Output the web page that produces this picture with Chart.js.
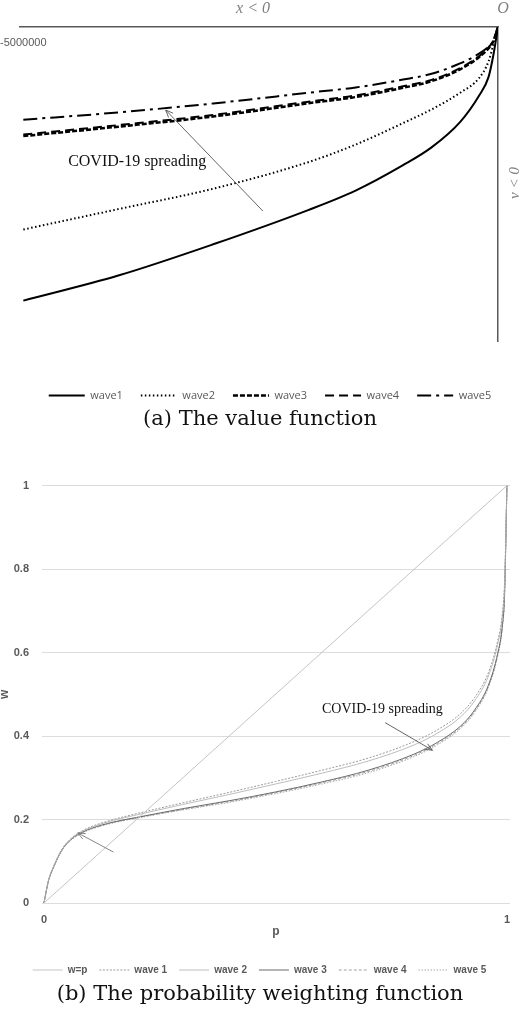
<!DOCTYPE html>
<html>
<head>
<meta charset="utf-8">
<script src="https://cdn.jsdelivr.net/npm/chart.js@4.4.1/dist/chart.umd.min.js"></script>
<style>
  html, body { margin: 0; padding: 0; background: #fff; }
  #page { position: relative; width: 520px; height: 1018px; overflow: hidden; }
  .box { position: absolute; left: 0; width: 520px; }
  .caption { position: absolute; left: 0; width: 520px; text-align: center;
             font-family: "DejaVu Serif", serif; font-size: 21px; color: #111; line-height: 24px; }
</style>
</head>
<body>
<div id="page">
  <div class="box" style="top:0; height:411px;"><canvas id="valueChart"></canvas></div>
  <div class="caption" style="top:406px;">(a) The value function</div>
  <div class="box" style="top:466px; height:519px;"><canvas id="weightChart"></canvas></div>
  <div class="caption" style="top:981px;">(b) The probability weighting function</div>
</div>
<script>
// (a) value function, losses x < 0
const lossX = [-5000000, -4000000, -3000000, -2000000, -1500000, -1000000, -700000, -400000, -200000, -100000, -50000, 0];
const valueWave1 = [-1743000, -1583000, -1384000, -1166000, -1042000, -880000, -767000, -606000, -438000, -319000, -183000, 0];
const valueWave2 = [-1290000, -1160000, -1030000, -861000, -749000, -612000, -525000, -419000, -326000, -220000, -114000, 0];
const valueWave3 = [-695000, -635000, -570000, -486000, -446000, -387000, -345000, -270000, -192000, -136000, -91000, 0];
const valueWave4 = [-685000, -625000, -560000, -476000, -436000, -377000, -337000, -262000, -186000, -130000, -87000, 0];
const valueWave5 = [-591000, -544000, -487000, -419000, -385000, -335000, -298000, -232000, -170000, -126000, -92000, 0];
const valueNames = ['wave1', 'wave2', 'wave3', 'wave4', 'wave5'];

// (b) probability weighting function
const probP = [0, 0.01, 0.02, 0.04, 0.06, 0.08, 0.1, 0.15, 0.2, 0.3, 0.4, 0.5, 0.6, 0.7, 0.8, 0.85, 0.9, 0.93, 0.96, 0.98, 0.99, 0.995, 1];
const weightWave1 = [0, 0.055, 0.086, 0.131, 0.156, 0.171, 0.182, 0.200, 0.214, 0.240, 0.265, 0.291, 0.318, 0.347, 0.387, 0.415, 0.454, 0.492, 0.552, 0.628, 0.692, 0.772, 1];
const weightWave2 = [0, 0.055, 0.085, 0.130, 0.155, 0.170, 0.180, 0.198, 0.211, 0.236, 0.260, 0.285, 0.311, 0.340, 0.379, 0.407, 0.446, 0.484, 0.544, 0.620, 0.685, 0.766, 1];
const weightWave3 = [0, 0.054, 0.084, 0.129, 0.154, 0.168, 0.178, 0.194, 0.205, 0.226, 0.245, 0.266, 0.290, 0.318, 0.357, 0.385, 0.424, 0.462, 0.522, 0.598, 0.664, 0.745, 1];
const weightWave4 = [0, 0.054, 0.084, 0.128, 0.153, 0.167, 0.177, 0.193, 0.204, 0.224, 0.243, 0.264, 0.288, 0.315, 0.354, 0.382, 0.421, 0.459, 0.519, 0.595, 0.661, 0.742, 1];
const weightWave5 = [0, 0.053, 0.083, 0.128, 0.152, 0.166, 0.176, 0.192, 0.203, 0.223, 0.241, 0.262, 0.285, 0.312, 0.351, 0.379, 0.418, 0.456, 0.516, 0.592, 0.658, 0.739, 1];
const diagP = [0, 1];
const diagW = [0, 1];
const weightNames = ['w=p', 'wave 1', 'wave 2', 'wave 3', 'wave 4', 'wave 5'];
const pTicks = [0, 1];

function points(xs, ys) {
    return xs.map((x, i) => ({ x: x, y: ys[i] }));
}

// legend samples should carry the dataset's own dash and width
function lineLabels(chart) {
    const items = Chart.defaults.plugins.legend.labels.generateLabels(chart);
    return items.map((item, i) => {
        const ds = chart.data.datasets[i];
        item.lineDash = ds.borderDash;
        item.lineWidth = ds.borderWidth;
        item.strokeStyle = ds.borderColor;
        item.pointStyle = 'line';
        return item;
    });
}

function arrow(ctx, x1, y1, x2, y2, color) {
    const a = Math.atan2(y2 - y1, x2 - x1);
    const h = 8;
    ctx.save();
    ctx.strokeStyle = color;
    ctx.lineWidth = 0.9;
    ctx.beginPath();
    ctx.moveTo(x1, y1);
    ctx.lineTo(x2, y2);
    ctx.moveTo(x2 - h * Math.cos(a - 0.4), y2 - h * Math.sin(a - 0.4));
    ctx.lineTo(x2, y2);
    ctx.lineTo(x2 - h * Math.cos(a + 0.4), y2 - h * Math.sin(a + 0.4));
    ctx.stroke();
    ctx.restore();
}

// Labels and arrow around the value function
const valueDecor = {
    id: 'valueDecor',
    afterDraw(chart) {
        const ctx = chart.ctx;
        const x = chart.scales.x, y = chart.scales.y;
        const area = chart.chartArea;
        ctx.save();
        ctx.fillStyle = '#7f7f7f';
        ctx.font = 'italic 16px "Liberation Serif", serif';
        ctx.textAlign = 'center';
        ctx.textBaseline = 'middle';
        ctx.fillText('x < 0', (area.left + area.right) / 2 - 6, 9);
        ctx.fillText('O', area.right + 5, 9);

        ctx.save();
        ctx.translate(area.right + 17, 183);
        ctx.rotate(-Math.PI / 2);
        ctx.font = 'italic 15px "Liberation Serif", serif';
        ctx.fillText('v < 0', 0, 0);
        ctx.restore();

        ctx.fillStyle = '#595959';
        ctx.font = '11px "Liberation Sans", sans-serif';
        ctx.fillText('-5000000', x.getPixelForValue(-5000000), area.top + 16);

        ctx.fillStyle = '#111';
        ctx.font = '16px "Liberation Serif", serif';
        ctx.fillText('COVID-19 spreading', x.getPixelForValue(-3800000), y.getPixelForValue(-860000));
        ctx.restore();

        arrow(ctx, x.getPixelForValue(-2477000), y.getPixelForValue(-1172000),
              x.getPixelForValue(-3500000), y.getPixelForValue(-529000), '#555');
    }
};

// Labels and arrows on the weighting function
const weightDecor = {
    id: 'weightDecor',
    afterDraw(chart) {
        const ctx = chart.ctx;
        const x = chart.scales.x, y = chart.scales.y;
        ctx.save();
        ctx.fillStyle = '#111';
        ctx.font = '14px "Liberation Serif", serif';
        ctx.textAlign = 'center';
        ctx.textBaseline = 'middle';
        ctx.fillText('COVID-19 spreading', x.getPixelForValue(0.731), y.getPixelForValue(0.465));
        ctx.restore();
        arrow(ctx, x.getPixelForValue(0.737), y.getPixelForValue(0.432),
              x.getPixelForValue(0.839), y.getPixelForValue(0.366), '#555');
        arrow(ctx, x.getPixelForValue(0.150), y.getPixelForValue(0.122),
              x.getPixelForValue(0.073), y.getPixelForValue(0.168), '#777');
    }
};

const valueStyles = [
    { width: 2, dash: [] },
    { width: 2, dash: [1.5, 2.5] },
    { width: 2.5, dash: [5, 2] },
    { width: 2, dash: [9, 5] },
    { width: 2, dash: [14, 5, 3, 5] }
];
const valueSeries = [valueWave1, valueWave2, valueWave3, valueWave4, valueWave5];

new Chart(document.getElementById('valueChart'), {
    type: 'line',
    data: {
        datasets: valueSeries.map((ys, i) => ({
            label: valueNames[i],
            data: points(lossX, ys),
            borderColor: '#000',
            backgroundColor: '#000',
            borderWidth: valueStyles[i].width,
            borderDash: valueStyles[i].dash,
            pointRadius: 0,
            fill: false,
            cubicInterpolationMode: 'monotone'
        }))
    },
    options: {
        responsive: true,
        maintainAspectRatio: false,
        animation: false,
        layout: { padding: { left: 20, right: 0, top: 0, bottom: 0 } },
        scales: {
            x: {
                type: 'linear', position: 'top', min: -5035000, max: 0,
                grid: { display: false, drawTicks: false },
                border: { display: true, color: '#595959', width: 1.5 },
                ticks: { display: false },
                afterFit: s => { s.height = 27; }
            },
            y: {
                type: 'linear', position: 'right', min: -2000000, max: 0,
                grid: { display: false, drawTicks: false },
                border: { display: true, color: '#595959', width: 1.5 },
                ticks: { display: false },
                afterFit: s => { s.width = 22; }
            },
            gap: {
                type: 'linear', position: 'bottom',
                grid: { display: false, drawTicks: false },
                border: { display: false },
                ticks: { display: false },
                afterFit: s => { s.height = 31; }
            }
        },
        plugins: {
            legend: {
                position: 'bottom',
                labels: {
                    usePointStyle: true, pointStyle: 'line', pointStyleWidth: 36,
                    color: '#595959', padding: 18,
                    font: { family: '"Open Sans", sans-serif', size: 11 },
                    generateLabels: lineLabels
                }
            },
            tooltip: { enabled: false }
        }
    },
    plugins: [valueDecor]
});

const weightStyles = [
    { color: '#c4c4c4', dash: [] },
    { color: '#9a9a9a', dash: [2, 1.5] },
    { color: '#bdbdbd', dash: [] },
    { color: '#6a6a6a', dash: [] },
    { color: '#a0a0a0', dash: [3, 2] },
    { color: '#a8a8a8', dash: [1.5, 1.5] }
];
const weightSeries = [
    points(diagP, diagW),
    points(probP, weightWave1),
    points(probP, weightWave2),
    points(probP, weightWave3),
    points(probP, weightWave4),
    points(probP, weightWave5)
];

new Chart(document.getElementById('weightChart'), {
    type: 'line',
    data: {
        datasets: weightSeries.map((pts, i) => ({
            label: weightNames[i],
            data: pts,
            borderColor: weightStyles[i].color,
            backgroundColor: weightStyles[i].color,
            borderWidth: 1,
            borderDash: weightStyles[i].dash,
            pointRadius: 0,
            fill: false,
            cubicInterpolationMode: 'monotone'
        }))
    },
    options: {
        responsive: true,
        maintainAspectRatio: false,
        animation: false,
        layout: { padding: { left: 0, right: 1, top: 11, bottom: 0 } },
        scales: {
            x: {
                type: 'linear', position: 'bottom', min: -0.00424, max: 1.00636,
                grid: { display: false, drawTicks: false },
                border: { display: false },
                afterBuildTicks: s => { s.ticks = pTicks.map(v => ({ value: v })); },
                ticks: { color: '#595959', padding: 10, font: { family: '"Liberation Sans", sans-serif', size: 11, weight: 'bold' } },
                title: { display: true, text: 'p', color: '#595959', padding: { top: 0, bottom: 14 },
                         font: { family: '"Liberation Sans", sans-serif', size: 12, weight: 'bold' } },
                afterFit: s => { s.height = 50; }
            },
            y: {
                type: 'linear', position: 'left', min: 0, max: 1,
                grid: { color: '#dcdcdc', lineWidth: 1, drawTicks: false },
                border: { display: false },
                ticks: { stepSize: 0.2, color: '#595959', padding: 13,
                         font: { family: '"Liberation Sans", sans-serif', size: 11, weight: 'bold' },
                         callback: v => String(Math.round(v * 10) / 10) },
                title: { display: true, text: 'w', color: '#595959', padding: { top: -3, bottom: 0 },
                         font: { family: '"Liberation Sans", sans-serif', size: 12, weight: 'bold' } },
                afterFit: s => { s.width = 42; }
            }
        },
        plugins: {
            legend: {
                position: 'bottom',
                labels: {
                    usePointStyle: true, pointStyle: 'line', pointStyleWidth: 30,
                    color: '#595959', padding: 12,
                    font: { family: '"Liberation Sans", sans-serif', size: 10, weight: 'bold' },
                    generateLabels: lineLabels
                }
            },
            tooltip: { enabled: false }
        }
    },
    plugins: [weightDecor]
});
</script>
</body>
</html>
